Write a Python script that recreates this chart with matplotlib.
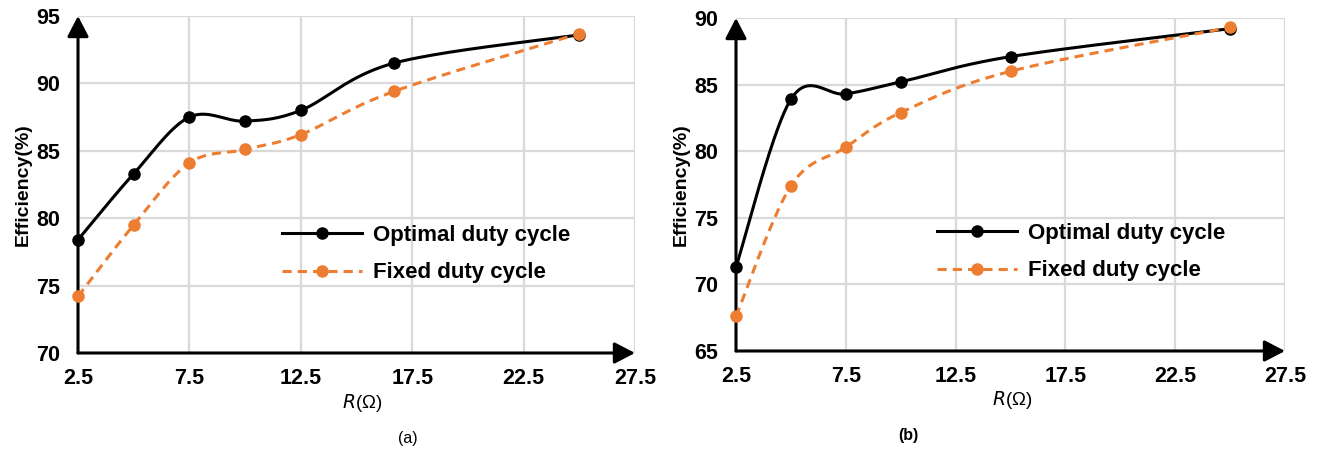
import numpy as np
import matplotlib.pyplot as plt

plt.rcParams['font.family'] = ['Liberation Sans', 'DejaVu Sans']

# (a)
r_a = [2.5, 5, 7.5, 10, 12.5, 16.67, 25]
opt_a = [78.4, 83.3, 87.5, 87.2, 88.0, 91.5, 93.6]
fix_a = [74.2, 79.5, 84.1, 85.1, 86.2, 89.4, 93.7]

# (b)
r_b = [2.5, 5, 7.5, 10, 15, 25]
opt_b = [71.3, 83.9, 84.3, 85.2, 87.1, 89.2]
fix_b = [67.6, 77.4, 80.3, 82.9, 86.0, 89.3]

xticks = [2.5, 7.5, 12.5, 17.5, 22.5, 27.5]
orange = '#ED7D31'
W, H = 1321, 455


def smooth(x, y, n=40):
    # bezier smoothing like excel "smoothed line"
    x = np.asarray(x, float)
    y = np.asarray(y, float)
    px = np.concatenate([[x[0]], x, [x[-1]]])
    py = np.concatenate([[y[0]], y, [y[-1]]])
    t = np.linspace(0, 1, n)
    xs, ys = [], []
    for i in range(1, len(px) - 2):
        p0 = np.array([px[i], py[i]])
        p3 = np.array([px[i + 1], py[i + 1]])
        c1 = p0 + (p3 - np.array([px[i - 1], py[i - 1]])) / 6
        c2 = p3 - (np.array([px[i + 2], py[i + 2]]) - p0) / 6
        b = ((1 - t) ** 3)[:, None] * p0 + (3 * (1 - t) ** 2 * t)[:, None] * c1 \
            + (3 * (1 - t) * t ** 2)[:, None] * c2 + (t ** 3)[:, None] * p3
        xs.append(b[:, 0])
        ys.append(b[:, 1])
    return np.concatenate(xs), np.concatenate(ys)


def panel(ax, r, opt, fix, ylo, yhi, cap, capx, xlabx, leg_xy):
    ax.set_xlim(2.5, 27.5)
    ax.set_ylim(ylo, yhi)
    ax.set_xticks(xticks)
    ax.set_yticks(np.arange(ylo, yhi + 1, 5))
    ax.set_xticklabels(['2.5', '7.5', '12.5', '17.5', '22.5', '27.5'])
    ax.grid(True, color='#d9d9d9', lw=1.6)
    ax.set_axisbelow(True)
    for s in ax.spines.values():
        s.set_visible(False)
    ax.tick_params(length=0, labelsize=15.5)
    ax.tick_params(axis='x', pad=11)
    ax.tick_params(axis='y', pad=13)
    for lab in ax.get_xticklabels() + ax.get_yticklabels():
        lab.set_fontweight('bold')

    sx, sy = smooth(r, opt)
    ax.plot(sx, sy, color='black', lw=2.2, clip_on=False, zorder=4)
    ax.plot(r, opt, 'o', color='black', ms=8, clip_on=False, zorder=5)
    sx, sy = smooth(r, fix)
    ax.plot(sx, sy, color=orange, lw=2.2, ls=(0, (3, 2)), clip_on=False, zorder=4)
    ax.plot(r, fix, 'o', color=orange, ms=8, clip_on=False, zorder=5)

    # axes with arrowheads
    arr = dict(arrowstyle='-|>,head_length=1.25,head_width=0.65', lw=2.2, color='black',
               shrinkA=0, shrinkB=0, mutation_scale=10)
    ax.annotate('', xy=(2.5, yhi), xytext=(2.5, ylo), arrowprops=arr,
                annotation_clip=False, zorder=3)
    ax.annotate('', xy=(27.5, ylo), xytext=(2.5, ylo), arrowprops=arr,
                annotation_clip=False, zorder=3)

    ax.set_ylabel('Efficiency(%)', fontsize=14, fontweight='bold', labelpad=3)
    ax.set_xlabel(r'$\it{R}$(Ω)', fontsize=13.5)
    ax.xaxis.set_label_coords(xlabx, -0.115)

    h1, = ax.plot([], [], '-o', color='black', lw=2.2, ms=8)
    h2, = ax.plot([], [], '--o', color=orange, lw=2.2, ms=8, dashes=(3, 2))
    fig.legend([h1, h2], ['Optimal duty cycle', 'Fixed duty cycle'], loc='center left',
               bbox_to_anchor=(leg_xy[0] / W, 1 - leg_xy[1] / H), frameon=False,
               handlelength=3.6, labelspacing=0.75, borderpad=0, borderaxespad=0,
               prop={'weight': 'bold', 'size': 16}, handletextpad=0.5)
    ax.text(capx, -0.255, cap, transform=ax.transAxes, ha='center', va='center',
            fontsize=11.5, fontweight='bold' if cap == '(b)' else 'normal')


fig = plt.figure(figsize=(W / 100, H / 100), dpi=100)
ax1 = fig.add_axes([78 / W, 1 - 353 / H, (635 - 78) / W, (353 - 16) / H])
ax2 = fig.add_axes([736 / W, 1 - 351 / H, (1285 - 736) / W, (351 - 18) / H])

panel(ax1, r_a, opt_a, fix_a, 70, 95, '(a)', (408 - 78) / (635 - 78),
      (362 - 78) / (635 - 78), (282, 254))
panel(ax2, r_b, opt_b, fix_b, 65, 90, '(b)', (908 - 736) / (1285 - 736),
      (1012 - 736) / (1285 - 736), (937, 252))

fig.savefig('out.png', dpi=100)
